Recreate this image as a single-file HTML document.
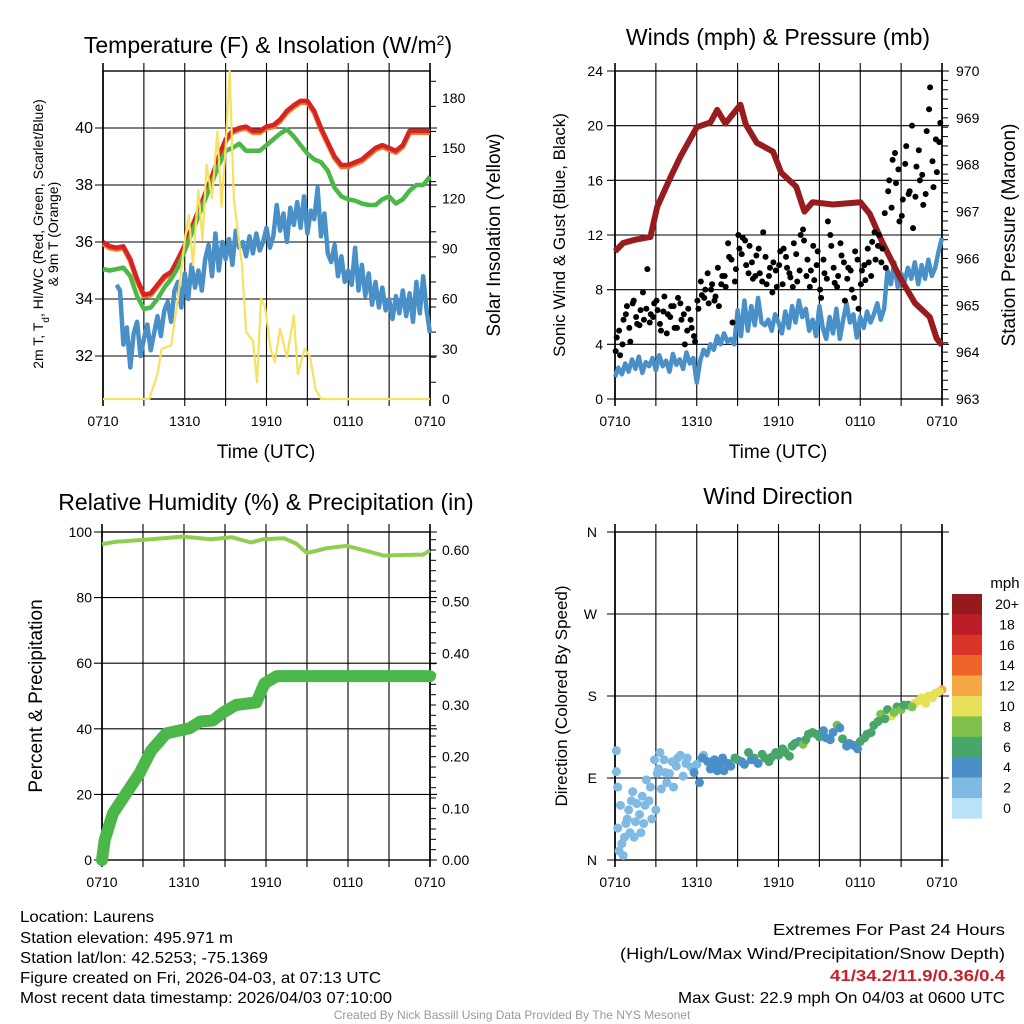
<!DOCTYPE html>
<html><head><meta charset="utf-8"><style>
body{margin:0;background:#fff}
svg{display:block;font-family:"Liberation Sans",Arial,sans-serif}
</style></head><body>
<svg id="s" width="1024" height="1024" viewBox="0 0 1024 1024" xmlns="http://www.w3.org/2000/svg">
<g id="bg"></g>
<text x="268" y="53" font-size="23" text-anchor="middle">Temperature (F) &amp; Insolation (W/m<tspan baseline-shift="super" font-size="14">2</tspan>)</text>
<text x="778" y="45" font-size="23" text-anchor="middle">Winds (mph) &amp; Pressure (mb)</text>
<text x="266" y="510" font-size="23" text-anchor="middle">Relative Humidity (%) &amp; Precipitation (in)</text>
<text x="778" y="504" font-size="23" text-anchor="middle">Wind Direction</text>
<text x="266" y="458" font-size="19" text-anchor="middle">Time (UTC)</text>
<text x="778" y="458" font-size="19" text-anchor="middle">Time (UTC)</text>
<text transform="translate(43,234) rotate(-90)" font-size="14" text-anchor="middle">2m T, T<tspan baseline-shift="sub" font-size="10">d</tspan>, HI/WC (Red, Green, Scarlet/Blue)</text>
<text transform="translate(58,234) rotate(-90)" font-size="14" text-anchor="middle">&amp; 9m T (Orange)</text>
<text transform="translate(500,235) rotate(-90)" font-size="19" text-anchor="middle">Solar Insolation (Yellow)</text>
<text transform="translate(565,235) rotate(-90)" font-size="17" text-anchor="middle">Sonic Wind &amp; Gust (Blue, Black)</text>
<text transform="translate(1015,235) rotate(-90)" font-size="19" text-anchor="middle">Station Pressure (Maroon)</text>
<text transform="translate(42,696) rotate(-90)" font-size="19" text-anchor="middle">Percent &amp; Precipitation</text>
<text transform="translate(567,696) rotate(-90)" font-size="17" text-anchor="middle">Direction (Colored By Speed)</text>
<text x="1005" y="588" font-size="15" text-anchor="middle">mph</text>
<g font-size="16">
<text x="20" y="922" textLength="134" lengthAdjust="spacingAndGlyphs">Location: Laurens</text>
<text x="20" y="943" textLength="213" lengthAdjust="spacingAndGlyphs">Station elevation: 495.971 m</text>
<text x="20" y="963" textLength="248" lengthAdjust="spacingAndGlyphs">Station lat/lon: 42.5253; -75.1369</text>
<text x="20" y="983" textLength="361" lengthAdjust="spacingAndGlyphs">Figure created on Fri, 2026-04-03, at 07:13 UTC</text>
<text x="20" y="1003" textLength="372" lengthAdjust="spacingAndGlyphs">Most recent data timestamp: 2026/04/03 07:10:00</text>
</g>
<g font-size="16" text-anchor="end">
<text x="1005" y="935" textLength="232" lengthAdjust="spacingAndGlyphs">Extremes For Past 24 Hours</text>
<text x="1005" y="959" textLength="385" lengthAdjust="spacingAndGlyphs">(High/Low/Max Wind/Precipitation/Snow Depth)</text>
<text x="1005" y="981" fill="#c8202a" font-weight="bold" textLength="175" lengthAdjust="spacingAndGlyphs">41/34.2/11.9/0.36/0.4</text>
<text x="1005" y="1003" textLength="327" lengthAdjust="spacingAndGlyphs">Max Gust: 22.9 mph On 04/03 at 0600 UTC</text>
</g>
<text x="512" y="1019" font-size="12" fill="#999" text-anchor="middle">Created By Nick Bassill Using Data Provided By The NYS Mesonet</text>
</svg>
<script>
// ---- data ----
const xTickLabels=["0710","1310","1910","0110","0710"];
const tempTicks=[32,34,36,38,40];
const insoTicks=[0,30,60,90,120,150,180];
const windTicks=[0,4,8,12,16,20,24];
const presTicks=[963,964,965,966,967,968,969,970];
const rhTicks=[0,20,40,60,80,100];
const precTicks=[0,0.1,0.2,0.3,0.4,0.5,0.6];
const dirTicks=["N","E","S","W","N"];
const cbLabels=["20+","18","16","14","12","10","8","6","4","2","0"];
const cbColors=["#951a1e","#bb1e26","#db3529","#ef6429","#f6a844","#e8df58","#7fc14b","#48a66b","#4a8fc8","#7ebae4","#b9e3f8"];

const redH=[0,0.5,1,1.5,2,2.5,3,3.5,4,4.5,5,5.5,6,6.5,7,7.5,8,8.5,9,9.5,10,10.5,11,11.5,12,12.5,13,13.5,14,14.5,15,15.5,16,16.5,17,17.5,18,18.5,19,19.5,20,20.5,21,21.5,22,22.5,23,23.5,24];
const redT=[36.0,35.85,35.8,35.85,35.4,34.7,34.15,34.2,34.5,34.8,34.95,35.4,35.9,36.5,37.1,37.7,38.3,39.0,39.6,39.9,40.0,40.05,39.9,39.9,40.05,40.1,40.3,40.6,40.8,40.95,40.95,40.6,40.0,39.5,39.0,38.7,38.7,38.8,38.9,39.1,39.3,39.4,39.3,39.2,39.4,39.9,39.9,39.9,39.9];
const greenT=[35.05,35.0,35.05,35.1,34.8,34.1,33.65,33.7,34.0,34.4,34.7,35.1,35.7,36.3,36.9,37.5,38.1,38.7,39.2,39.3,39.45,39.2,39.2,39.2,39.4,39.6,39.8,39.95,39.7,39.4,39.1,38.9,38.8,38.5,37.9,37.6,37.5,37.45,37.35,37.3,37.3,37.5,37.6,37.35,37.5,37.8,38.0,38.0,38.3];
const blueStart=1, blueStep=0.25;
const blueT=[34.5,34.3,32.4,33.0, 31.6,32.8,33.2,32.0, 32.6,33.1,32.2,32.8, 33.4,32.7,33.6,33.9, 33.2,34.3,34.6,33.7, 34.9,34.0,35.2,34.4, 35.0,34.3,35.4,35.9, 34.8,36.3,35.0,36.0, 35.4,36.1,35.2,36.4, 35.8,36.0,35.5,36.2, 35.6,36.3,35.7,36.0, 36.5,35.8,36.2,37.3, 36.4,37.0,36.0,37.2, 36.6,37.4,36.5,37.6, 36.3,37.1,36.8,37.9, 36.2,37.0,35.6,35.3, 35.9,34.8,35.5,34.6, 35.0,34.5,35.8,34.3, 35.2,34.1,34.9,33.8, 34.6,33.7,34.4,33.6, 34.0,33.3,34.1,33.5, 34.3,33.4,34.2,33.2, 34.6,33.5,34.8,33.6, 32.8];
const insoH=[0,3.4,4.0,4.3,5.0,5.5,6.0,6.3,6.6,7.0,7.3,7.6,8.0,8.4,8.7,9.0,9.3,9.6,9.9,10.2,10.5,11.0,11.3,11.6,11.9,12.3,12.6,13.0,13.5,14.0,14.3,14.8,15.2,15.6,16.0,24];
const insoV=[0,0,15,30,32,60,95,110,80,125,95,140,120,160,115,150,196,120,100,80,40,35,10,60,55,30,22,42,25,50,15,30,25,6,0,0];

const sonicStart=0, sonicStep=0.25;
const sonicV=[1.6,2.3,1.8,2.6, 2.0,2.9,2.2,3.1, 1.9,2.7,2.4,3.0, 2.1,3.2,2.4,2.8, 2.0,3.3,2.5,2.9, 2.2,3.4,2.6,3.0, 1.2,2.8,3.6,3.2, 4.0,3.6,4.6,4.0, 4.8,4.2,4.4,4.0, 6.5,4.6,7.2,5.0, 6.8,5.4,7.4,5.6, 5.4,5.8,5.0,6.2, 5.6,4.8,6.4,5.2, 6.8,5.6,7.2,6.0, 6.6,5.0,5.8,4.6, 6.8,5.2,4.4,6.0, 4.8,6.6,4.4,5.8, 7.0,5.6,6.2,4.5, 6.0,5.2,6.4,5.6, 6.2,7.0,5.8,6.6, 9.4,8.4,10.0,8.2, 9.2,8.6,9.6,8.8, 10.0,8.4,9.8,8.8, 10.2,9.0,9.6,10.8, 11.8];
const gustV=[4.5,3.2,5.8,6.8,4.2,7.2,5.5,6.5,5.8,9.5,6.2,7.0,6.5,5.0,7.5,6.2,6.8,5.2,7.4,5.8,4.0,6.6,5.2,4.2,6.6,7.6,8.0,7.0,8.4,7.5,6.8,9.0,8.2,10.4,5.6,9.5,11.0,11.8,9.8,11.2,8.8,10.5,9.2,12.2,8.4,9.6,10.0,8.2,10.8,11.0,9.6,8.9,11.4,8.6,12.0,11.6,10.2,9.4,8.7,10.8,7.4,9.2,13.0,11.2,8.5,9.0,10.5,7.2,9.6,8.0,10.8,6.6,9.4,8.7,10.0,11.5,10.2,12.0,11.0,9.6,16.0,17.5,15.8,13.0,14.6,18.5,15.2,12.5,17.0,16.0,14.2,19.6,22.8,15.5,16.6,20.2];
const gustV2=[3.5,5.0,4.0,6.2,5.2,7.0,6.0,5.4,7.8,6.6,5.6,6.0,7.2,5.5,6.4,4.8,6.0,6.8,5.2,7.0,6.2,5.0,5.8,4.6,7.2,8.6,7.4,9.2,8.0,7.2,9.6,8.4,9.0,11.4,10.2,8.6,12.0,10.6,11.6,9.2,10.0,9.0,11.0,8.6,10.4,9.0,7.8,9.4,9.8,8.4,10.4,9.2,8.2,10.6,9.4,12.4,9.0,8.2,11.2,9.8,8.0,10.2,8.8,12.0,9.6,8.2,11.4,10.0,8.8,9.4,7.4,10.2,8.4,9.8,11.0,9.0,12.2,11.2,10.0,13.6,15.2,14.0,18.0,16.8,13.4,17.2,15.0,20.0,14.8,18.2,16.4,15.0,21.2,17.4,19.0,18.8];
const presH=[0,0.6,1.5,2.6,3.1,4.1,4.8,6.0,7.0,7.5,8.1,9.2,9.6,10.4,11.6,12.2,13.3,13.9,14.5,16.0,18.0,18.7,19.6,20.9,22.0,23.1,23.6,24];
const presV=[966.15,966.33,966.4,966.46,967.1,967.75,968.17,968.8,968.9,969.17,968.88,969.28,968.86,968.47,968.28,967.83,967.53,967.0,967.2,967.15,967.2,966.95,966.36,965.6,965.05,964.75,964.3,964.15];

const rhH=[0,1,3,5.9,8,9.5,10.9,11.8,13.3,14.2,15.0,16.5,17.9,19.5,20.6,22,23.5,24];
const rhV=[96.3,97.0,97.6,98.6,97.8,98.4,96.8,97.8,98.1,96.5,93.6,95.1,95.8,94.1,92.8,93.0,93.1,94.4];
const precH=[0,0.2,0.8,1.8,2.75,3.6,4.7,6.4,7.2,8.1,8.9,9.8,11.3,11.9,12.8,24];
const precV=[0,0.039,0.09,0.13,0.168,0.212,0.245,0.255,0.268,0.27,0.286,0.30,0.305,0.342,0.356,0.356];

const dirH=[0.1,0.1,0.2,0.3,0.5,0.6,0.8,1.0,1.1,1.3,1.4,1.6,1.8,2.0,2.1,2.3,2.5,2.7,2.9,3.0,3.2,3.4,3.6,3.8,4.0,4.3,4.5,4.8,5.0,5.3,6.0,6.2,6.5,7.0,7.3,7.7,8.0,8.5,9.0,9.3,9.8,10.2,10.5,11.0,11.5,12.0,12.5,13.0,13.5,13.8,14.2,14.5,15.0,15.5,16.0,16.3,16.7,17.0,17.5,18.0,18.5,19.0,19.5,20.0,20.3,20.7,21.0,21.5,22.0,22.5,23.0,23.5,24.0,
0.2,0.4,0.7,0.9,1.2,1.5,1.9,2.2,2.6,3.1,3.3,3.7,4.2,4.6,5.2,5.6,5.8,6.4,6.8,7.1,7.5,7.9,8.3,8.8,9.5,10.0,10.8,11.3,11.8,12.3,12.8,13.2,14.0,14.8,15.3,15.8,16.5,17.2,17.8,18.3,18.8,19.3,19.8,20.5,21.2,21.8,22.3,22.8,23.3,23.8];
const dirV=[120,97,35,10,18,5,40,55,30,75,25,62,50,70,40,88,65,45,110,55,100,78,110,85,95,80,103,115,92,112,105,85,115,100,110,105,98,103,110,108,118,112,106,112,113,115,118,125,130,127,138,140,135,134,140,148,133,125,126,130,138,148,160,165,158,168,165,170,172,178,180,183,187,
80,60,25,45,65,42,30,60,80,95,118,96,108,112,106,102,96,112,108,104,98,112,106,112,105,110,116,108,118,122,114,128,132,138,142,132,145,128,122,134,140,152,155,162,170,168,175,172,178,185];
const dirS=[2,2,1,1,1,2,2,2,2,2,2,2,2,2,1,2,2,2,1,2,2,2,2,2,2,1,2,2,2,2,2,3,2,3,4,4,4,4,6,4,5,6,4,6,5,6,5,6,4,7,6,5,6,4,4,7,6,4,4,6,6,6,7,6,9,6,7,6,10,9,10,10,12,
2,2,1,2,2,2,2,2,2,1,2,2,2,2,2,2,3,3,3,4,4,4,4,5,4,4,6,5,6,6,6,6,6,6,4,4,4,4,4,6,6,6,6,8,6,8,10,9,10,10];

// ---- drawing ----
const NS="http://www.w3.org/2000/svg";
const svg=document.getElementById('s');
const bg=document.getElementById('bg');
function mk(tag,attrs,parent){const e=document.createElementNS(NS,tag);for(const k in attrs)e.setAttribute(k,attrs[k]);(parent||svg).appendChild(e);return e;}
function lin(d0,d1,r0,r1){return v=>r0+(v-d0)*(r1-r0)/(d1-d0);}
function path(xs,ys,fx,fy){return xs.map((h,i)=>(i?'L':'M')+fx(h).toFixed(1)+','+fy(ys[i]).toFixed(1)).join('');}
function hoursFor(arr,start,step){return arr.map((_,i)=>start+i*step);}

function frame(L,R,T,B,name,yGrid,xLabels){
  const g=mk('g',{},bg);
  
  
  for(let i=0;i<=8;i++){const x=L+(R-L)*i/8;
    const l=mk('line',{x1:x,x2:x,y1:T-8,y2:B+7,stroke:'#000','stroke-width':(i===0||i===8)?1.6:1.1},g);
    }
  yGrid.forEach(y=>{const l=mk('line',{x1:L-8,x2:R+7,y1:y,y2:y,stroke:'#000','stroke-width':1.1},g);
    });
  mk('rect',{x:L,y:T,width:R-L,height:B-T,fill:'none',stroke:'#000','stroke-width':1.4},g);
  xLabels.forEach((t,i)=>{const e=mk('text',{x:L+(R-L)*i/4,y:B+27,'font-size':14,'text-anchor':'middle'},g);e.textContent=t;
    });
}
function yLabels(vals,fy,x,anchor,fmt,name,fs){vals.forEach(v=>{const e=mk('text',{x:x,y:fy(v)+5,'font-size':fs||14,'text-anchor':anchor});e.textContent=fmt(v);
  });}
function minorR(R,fy,vals){vals.forEach(v=>mk('line',{x1:R,x2:R+6,y1:fy(v),y2:fy(v),stroke:'#000','stroke-width':1},bg));}

// Panel 1
{const L=103,R=430,T=71,B=399;
 const fx=lin(0,24,L,R),fy=lin(32,40,356,128),fi=lin(0,180,399,98);
 frame(L,R,T,B,'temp-panel',tempTicks.map(fy),xTickLabels);
 yLabels(tempTicks,fy,L-10,'end',v=>v,'temp-y-tick',16);
 yLabels(insoTicks,fi,R+12,'start',v=>v,'insolation-y-tick');
 const mins=[];for(let v=10;v<=195;v+=15)mins.push(v);minorR(R,fi,mins);
 let e=mk('path',{d:path(redH,redT.map(v=>v-0.06),fx,fy),fill:'none',stroke:'#f07a2a','stroke-width':5,'stroke-linejoin':'round'});
 
 e=mk('path',{d:path(redH,redT,fx,fy),fill:'none',stroke:'#d42424','stroke-width':4.5,'stroke-linejoin':'round'});
 
 e=mk('path',{d:path(redH,greenT,fx,fy),fill:'none',stroke:'#4cb848','stroke-width':4.5,'stroke-linejoin':'round'});
 
 e=mk('path',{d:path(hoursFor(blueT,blueStart,blueStep),blueT,fx,fy),fill:'none',stroke:'#4a90c8','stroke-width':4.5,'stroke-linejoin':'round'});
 
 e=mk('path',{d:path(insoH,insoV,fx,fi),fill:'none',stroke:'#f8e160','stroke-width':2.2,'stroke-linejoin':'round'});
 }

// Panel 2
{const L=615,R=942,T=71,B=399;
 const fx=lin(0,24,L,R),fy=lin(0,24,399,71),fp=lin(963,970,399,71);
 frame(L,R,T,B,'wind-panel',windTicks.map(fy),xTickLabels);
 yLabels(windTicks,fy,L-12,'end',v=>v,'wind-y-tick');
 yLabels(presTicks,fp,R+14,'start',v=>v,'pressure-y-tick');
 const mins=[];for(let v=963;v<=970;v+=0.2)mins.push(v);minorR(R,fp,mins);
 let e=mk('path',{d:path(hoursFor(sonicV,sonicStart,sonicStep),sonicV,fx,fy),fill:'none',stroke:'#4a90c8','stroke-width':4.5,'stroke-linejoin':'round'});
 
 e=mk('path',{d:path(presH,presV,fx,fp),fill:'none',stroke:'#981c1e','stroke-width':6,'stroke-linejoin':'round'});
 
 gustV.forEach((v,i)=>{const c=mk('circle',{cx:fx(0.125+i*0.25),cy:fy(v),r:3,fill:'#000'});
   });
 gustV2.forEach((v,i)=>{const c=mk('circle',{cx:fx(0.05+i*0.25),cy:fy(v),r:3,fill:'#000'});
   });}

// Panel 3
{const L=102,R=430,T=532,B=860;
 const fx=lin(0,24,L,R),fy=lin(0,100,860,532),fq=lin(0,0.6,860,550);
 frame(L,R,T,B,'rh-panel',rhTicks.map(fy),xTickLabels);
 yLabels(rhTicks,fy,L-10,'end',v=>v,'rh-y-tick');
 yLabels(precTicks,fq,R+12,'start',v=>v.toFixed(2),'precip-y-tick');
 const mins=[];for(let v=0;v<=0.63;v+=0.02)mins.push(v);minorR(R,fq,mins);
 let e=mk('path',{d:path(rhH,rhV,fx,fy),fill:'none',stroke:'#8fce50','stroke-width':4,'stroke-linejoin':'round'});
 
 e=mk('path',{d:path(precH,precV,fx,fq),fill:'none',stroke:'#4bb749','stroke-width':12,'stroke-linejoin':'round','stroke-linecap':'round'});
 }

// Panel 4
{const L=615,R=942,T=532,B=860;
 const fx=lin(0,24,L,R),fd=lin(0,360,860,532);
 frame(L,R,T,B,'direction-panel',[0,90,180,270,360].map(fd),xTickLabels);
 dirTicks.forEach((t,i)=>{const e=mk('text',{x:L-18,y:fd(i*90)+5,'font-size':14,'text-anchor':'end'});e.textContent=t;
   });
 dirV.forEach((v,i)=>{const ci=10-Math.min(10,Math.round(dirS[i]/2));
   const c=mk('circle',{cx:fx(dirH[i]),cy:fd(v),r:4.5,fill:cbColors[ci]});
   });
 cbColors.forEach((col,i)=>{const r=mk('rect',{x:952,y:594+i*20.4,width:30,height:20.6,fill:col});
   
   const t=mk('text',{x:1007,y:594+i*20.4+15,'font-size':14,'text-anchor':'middle'});t.textContent=cbLabels[i];
   });}
</script>
</body></html>
